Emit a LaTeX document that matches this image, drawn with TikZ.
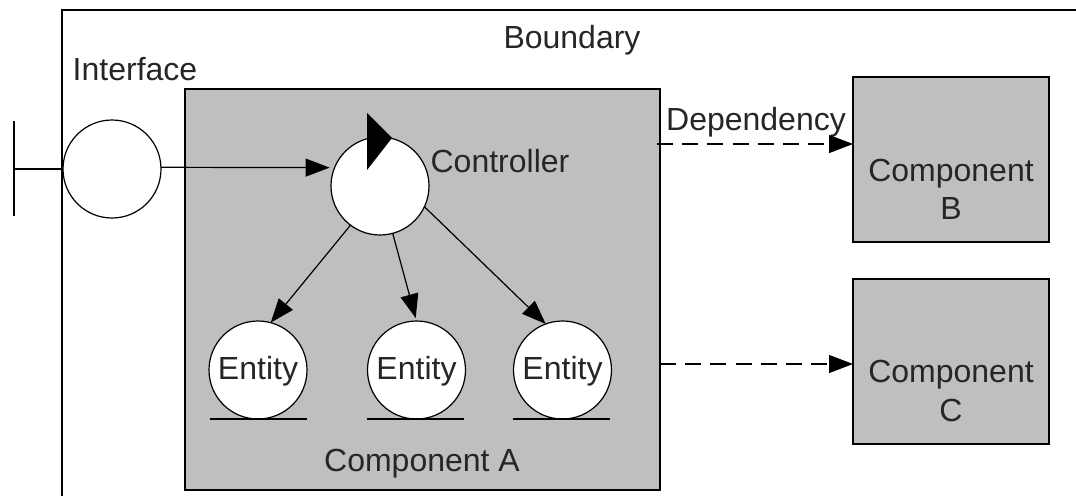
\documentclass[tikz,border=0pt]{standalone}
\usepackage{fontspec}
\setmainfont{Liberation Sans}
\usetikzlibrary{arrows.meta}
\begin{document}
\begin{tikzpicture}[x=1pt,y=-1pt,
		every node/.style={font=\fontsize{32}{38.6}\selectfont,text=black!85},
		box/.style={rectangle,draw,line width=1.6pt,fill=black!25,inner sep=0pt,outer sep=0pt,anchor=north west,align=center},
		ball/.style={circle,draw,line width=1.2pt,fill=white,inner sep=0pt,outer sep=0pt,minimum size=98pt},
		caption/.style={anchor=base,inner sep=0pt},
		link/.style={line width=1.2pt,-{Triangle[length=24pt,width=18pt]}},
		dep/.style={link,dash pattern=on 16pt off 9.2pt},
		ground/.style={line width=1.3pt}]
		\useasboundingbox (0,0) rectangle (1076,496);
		\draw[line width=1.4pt] (62,496) coordinate (bl) -- (62,10) coordinate (tl) -- (1076,10) coordinate (tr);
		\node [box,minimum width=475pt,minimum height=401pt] (compA) at (185,89) {};
		\node [box,minimum width=196pt,minimum height=165pt] (compB) at (853,77) {};
		\node [box,minimum width=196pt,minimum height=165pt] (compC) at (853,279) {};
		\node [caption] (boundary) at (572,48) {Boundary};
		\node [caption] (interface) at (135,80) {Interface};
		\node [caption] (dependency) at (756,130) {Dependency};
		\node [caption] (controller) at (500,172) {Controller};
		\node [caption] (nameA) at (422,471) {Component A};
		\node [align=center] (nameB) at (951,189.5) {Component\\B};
		\node [align=center] (nameC) at (951,391) {Component\\C};
		\node [ball] (iface) at (112,169) {};
		\node [ball] (ctrl) at (380,186) {};
		\node [ball] (ent1) at (258,370) {};
		\node [ball] (ent2) at (416.5,370) {};
		\node [ball] (ent3) at (562.5,370) {};
		\foreach \e in {ent1,ent2,ent3}
		\node [caption] (\e-text) at ([yshift=-9pt]\e.center) {Entity};
		\fill (367,113) coordinate (p1) -- (392,138) coordinate (p2) -- (367,170) coordinate (p3) -- cycle;
		% socket on the boundary
		\coordinate (stem) at (14,169);
		\draw[line width=1.3pt] (14,121) coordinate (st) -- (14,216) coordinate (sb);
		\draw[line width=1.3pt] (stem) -- (iface.west);
		\draw[link,shorten >=5pt] (iface.2) -- (ctrl.158);
		\draw[link] (ctrl.233) -- (ent1.75);
		\draw[link,shorten >=3pt] (ctrl.285) -- (ent2.north);
		\draw[link] (ctrl.335) -- (ent3.110);
		\foreach \l/\r in {210/307,367/464,513/610}
		\draw[ground] (\l,419) -- (\r,419);
		\coordinate (depB) at (657,144);
		\coordinate (depC) at (660,364);
		\draw[dep] (depB) -- (compB.west |- depB);
		\draw[dep] (depC) -- (compC.west |- depC);
\end{tikzpicture}
\end{document}
